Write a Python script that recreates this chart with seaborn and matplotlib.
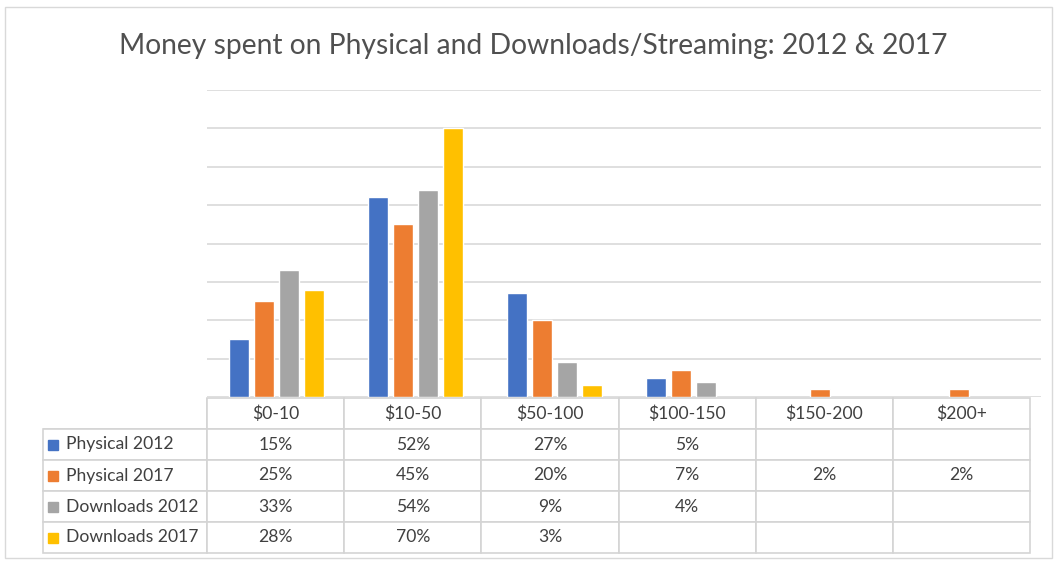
import pandas as pd
import matplotlib.pyplot as plt
import seaborn as sns
from matplotlib.patches import Rectangle

categories = ['$0-10', '$10-50', '$50-100', '$100-150', '$150-200', '$200+']
series = ['Physical 2012', 'Physical 2017', 'Downloads 2012', 'Downloads 2017']
physical_2012 = [15, 52, 27, 5, None, None]
physical_2017 = [25, 45, 20, 7, 2, 2]
downloads_2012 = [33, 54, 9, 4, None, None]
downloads_2017 = [28, 70, 3, None, None, None]
colors = ['#4472C4', '#ED7D31', '#A5A5A5', '#FFC000']

values = [physical_2012, physical_2017, downloads_2012, downloads_2017]
rows = []
for name, vals in zip(series, values):
    for cat, v in zip(categories, vals):
        if v is not None:
            rows.append({'Spend': cat, 'Series': name, 'Percent': v})
df = pd.DataFrame(rows)

sns.set_style('white')
plt.rcParams['font.family'] = ['Lato', 'DejaVu Sans']

W, H = 1056, 561
fig = plt.figure(figsize=(W / 100, H / 100), dpi=100)
# plot area in pixels: x 207..1041, y 90..397
ax = fig.add_axes([207 / W, 1 - 397 / H, 834 / W, 307 / H])

sns.barplot(data=df, x='Spend', y='Percent', hue='Series', order=categories,
            hue_order=series, palette=colors, width=0.72, gap=0.2,
            saturation=1, ax=ax, legend=False)

ax.set_ylim(0, 80)
ax.set_yticks(range(0, 81, 10))
ax.yaxis.grid(True, color='#D9D9D9', linewidth=1.2)
ax.set_axisbelow(True)
ax.set_xlim(-0.5, len(categories) - 0.5)
ax.tick_params(left=False, bottom=False, labelleft=False, labelbottom=False)
ax.set_xlabel('')
ax.set_ylabel('')
for s in ax.spines.values():
    s.set_visible(False)

# data table under the bars
def fmt(v):
    return '' if v is None else f'{v}%'

cell_text = [[''] + categories]
for name, vals in zip(series, values):
    cell_text.append([name] + [fmt(v) for v in vals])

px_x = lambda p: (p - 207) / 834
px_y = lambda p: (397 - p) / 307
tb_left, tb_right, tb_top, tb_bot = 43, 1030, 398, 553
tbl = ax.table(cellText=cell_text, cellLoc='center',
               colWidths=[164] + [(tb_right - 207) / 6] * 6,
               bbox=[px_x(tb_left), px_y(tb_bot), px_x(tb_right) - px_x(tb_left),
                     px_y(tb_top) - px_y(tb_bot)])
tbl.auto_set_font_size(False)
for (r, c), cell in tbl.get_celld().items():
    cell.set_edgecolor('#D4D4D4')
    cell.set_linewidth(1.2)
    cell.get_text().set_fontsize(12.6)
    cell.get_text().set_color('#404040')
    if c == 0:
        cell._loc = 'left'
        cell.PAD = 0.14
        cell.get_text().set_ha('left')
    if r == 0 and c == 0:
        cell.visible_edges = 'BR'

# legend keys inside the row-label cells
row_h = (tb_bot - tb_top) / 5
for i, col in enumerate(colors):
    yc = tb_top + row_h * (i + 1.5)
    ax.add_patch(Rectangle((px_x(48), px_y(yc + 5)), 10 / 834, 10 / 307,
                           transform=ax.transAxes, color=col, clip_on=False))

fig.text(533 / W, 1 - 46 / H, 'Money spent on Physical and Downloads/Streaming: 2012 & 2017',
         ha='center', va='center', fontsize=20.3, color='#505050')

# outer chart frame
fig.patches.append(Rectangle((5 / W, 1 - 558 / H), 1047 / W, 551 / H,
                             transform=fig.transFigure, fill=False,
                             edgecolor='#D9D9D9', linewidth=1))

fig.savefig('out.png', dpi=100)
